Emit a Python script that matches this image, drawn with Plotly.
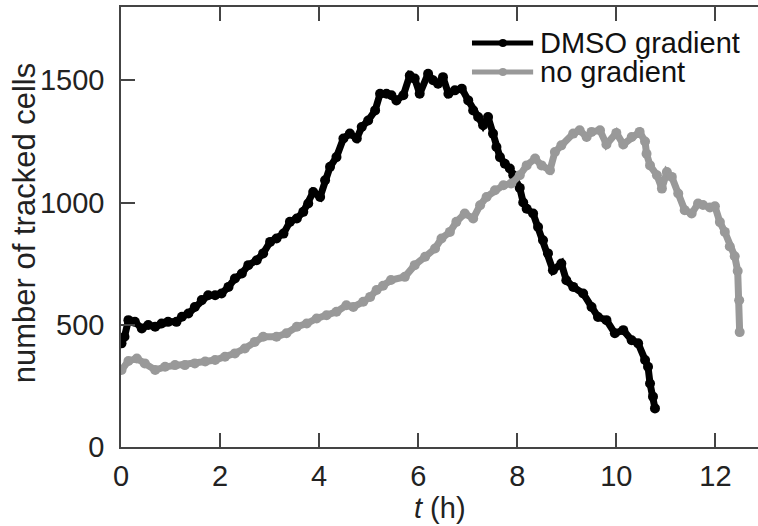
import plotly.graph_objects as go

# DMSO gradient series (t in hours, number of tracked cells)
t_dmso = [0.01, 0.07, 0.15, 0.28, 0.42, 0.55, 0.69, 0.82, 0.95, 1.12, 1.23, 1.36, 1.49, 1.63,
          1.76, 1.90, 2.03, 2.17, 2.30, 2.44, 2.57, 2.74, 2.87, 3.01, 3.14, 3.28, 3.41, 3.55,
          3.68, 3.78, 3.88, 4.02, 4.12, 4.22, 4.35, 4.49, 4.62, 4.76, 4.86, 4.99, 5.13, 5.23,
          5.36, 5.46, 5.56, 5.70, 5.83, 5.93, 6.03, 6.20, 6.30, 6.40, 6.50, 6.61, 6.74, 6.88,
          7.01, 7.11, 7.21, 7.31, 7.41, 7.51, 7.58, 7.65, 7.75, 7.85, 7.92, 8.05, 8.12, 8.19,
          8.32, 8.42, 8.52, 8.62, 8.72, 8.89, 8.99, 9.13, 9.33, 9.50, 9.63, 9.80, 9.97, 10.14,
          10.31, 10.44, 10.58, 10.64, 10.68, 10.74, 10.78]
n_dmso = [424, 451, 519, 512, 485, 499, 492, 505, 512, 512, 533, 546, 573, 601,
          621, 621, 628, 655, 689, 710, 744, 764, 792, 839, 853, 873, 921, 935,
          962, 996, 1043, 1023, 1091, 1146, 1186, 1262, 1282, 1262, 1309, 1336, 1377, 1445,
          1445, 1439, 1418, 1439, 1520, 1507, 1445, 1527, 1500, 1486, 1513, 1445, 1459, 1466,
          1418, 1377, 1350, 1316, 1350, 1282, 1227, 1186, 1159, 1139, 1112, 1060, 1000, 975,
          955, 900, 846, 792, 723, 751, 682, 655, 628, 573, 532, 519, 465, 478,
          437, 424, 356, 328, 260, 206, 158]

# No gradient series
t_none = [0.01, 0.15, 0.32, 0.48, 0.69, 0.89, 1.09, 1.29, 1.49, 1.70, 1.90, 2.10, 2.30, 2.50,
          2.70, 2.87, 3.14, 3.34, 3.55, 3.75, 3.95, 4.15, 4.35, 4.55, 4.69, 4.89, 5.03, 5.16,
          5.29, 5.45, 5.73, 5.93, 6.14, 6.34, 6.47, 6.64, 6.77, 6.94, 7.11, 7.25, 7.38, 7.55,
          7.72, 7.88, 8.05, 8.19, 8.36, 8.49, 8.66, 8.76, 8.89, 9.13, 9.26, 9.40, 9.50, 9.67,
          9.80, 10.00, 10.14, 10.31, 10.47, 10.58, 10.61, 10.68, 10.82, 10.92, 11.02, 11.12,
          11.25, 11.38, 11.52, 11.65, 11.75, 11.89, 11.99, 12.09, 12.19, 12.29, 12.39, 12.45,
          12.48, 12.49]
n_none = [315, 352, 362, 342, 315, 328, 335, 335, 342, 350, 356, 369, 383, 403,
          430, 451, 451, 465, 492, 505, 526, 539, 553, 580, 573, 594, 614, 642,
          660, 683, 696, 744, 778, 812, 853, 880, 921, 955, 935, 989, 1023, 1050,
          1071, 1078, 1112, 1152, 1180, 1152, 1132, 1207, 1234, 1282, 1296, 1268, 1289, 1296,
          1238, 1285, 1238, 1268, 1289, 1250, 1200, 1152, 1112, 1057, 1125, 1105,
          1037, 969, 955, 996, 990, 980, 985, 920, 880, 820, 780, 720,
          600, 470]

series_names = ["DMSO gradient", "no gradient"]
series_colors = ["#000000", "#999999"]

x_ticks = [0, 2, 4, 6, 8, 10, 12]
y_ticks = [0, 500, 1000, 1500]

FONT = "Liberation Sans, Arial, Helvetica, sans-serif"
AX = "#444444"
TXT = "#222222"

fig = go.Figure()
for tx, ny, name, col in [(t_dmso, n_dmso, series_names[0], series_colors[0]),
                          (t_none, n_none, series_names[1], series_colors[1])]:
    fig.add_trace(go.Scatter(
        x=tx, y=ny, mode="lines+markers", name=name, showlegend=False,
        line=dict(color=col, width=7), marker=dict(color=col, size=10),
    ))

# Legend drawn in paper coordinates (top right, inside axes)
shapes = []
annotations = []
leg_y = [0.918, 0.852]
for i, (name, col) in enumerate(zip(series_names, series_colors)):
    y = leg_y[i]
    shapes.append(dict(type="line", xref="paper", yref="paper", x0=0.551, x1=0.647, y0=y, y1=y,
                       line=dict(color=col, width=5)))
    shapes.append(dict(type="circle", xref="paper", yref="paper",
                       x0=0.5995 - 4 / 637, x1=0.5995 + 4 / 637, y0=y - 4 / 440, y1=y + 4 / 440,
                       fillcolor=col, line=dict(color=col, width=0)))
    annotations.append(dict(text=name, xref="paper", yref="paper", x=0.654, y=y,
                            xanchor="left", yanchor="middle", showarrow=False,
                            font=dict(size=29, color="#111111", family=FONT)))

# Axis titles
annotations.append(dict(text="<i>t</i> (h)", xref="paper", yref="paper", x=0.5008, y=-0.1386,
                        xanchor="center", yanchor="middle", showarrow=False,
                        font=dict(size=29, color=TXT, family=FONT)))
annotations.append(dict(text="number of tracked cells", xref="paper", yref="paper", x=-0.152, y=0.509,
                        xanchor="center", yanchor="middle", showarrow=False, textangle=-90,
                        font=dict(size=31, color=TXT, family=FONT)))

fig.update_layout(
    width=758, height=526,
    margin=dict(l=121, r=0, t=7, b=79),
    paper_bgcolor="white", plot_bgcolor="white",
    font=dict(family=FONT, size=29, color=TXT),
    showlegend=False,
    hovermode=False,
    shapes=shapes,
    annotations=annotations,
    xaxis=dict(
        range=[0, 12.86], tickvals=x_ticks, ticktext=[str(v) for v in x_ticks],
        ticks="inside", ticklen=14, tickwidth=1.5, tickcolor=AX,
        showline=True, linecolor=AX, linewidth=1.5, mirror="ticks",
        showgrid=False, zeroline=False, automargin=False,
        tickfont=dict(size=29, color=TXT), ticklabelstandoff=2,
    ),
    yaxis=dict(
        range=[0, 1800], tickvals=y_ticks, ticktext=[str(v) for v in y_ticks],
        ticks="inside", ticklen=14, tickwidth=1.5, tickcolor=AX,
        showline=True, linecolor=AX, linewidth=1.5,
        showgrid=False, zeroline=False, automargin=False,
        tickfont=dict(size=29, color=TXT), ticklabelstandoff=9,
    ),
)

fig.write_html("out.html", config={"displayModeBar": False},
               post_script="document.body.style.margin='0px';")
